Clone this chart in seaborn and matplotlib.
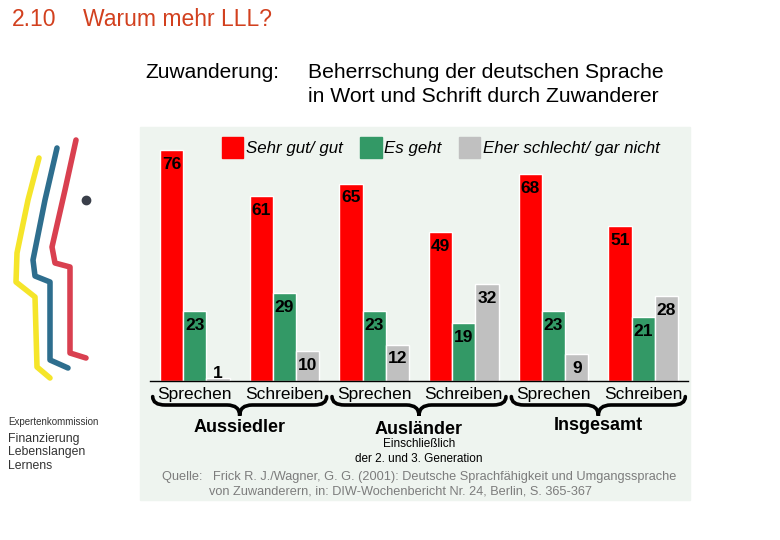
import numpy as np
import pandas as pd
import matplotlib
matplotlib.use("Agg")
import matplotlib.pyplot as plt
import seaborn as sns
from matplotlib.patches import Patch, Rectangle, PathPatch
from matplotlib.path import Path
from matplotlib.lines import Line2D
from matplotlib.transforms import blended_transform_factory

# data
gruppen = ["Aussiedler", "Ausländer", "Insgesamt"]
faehigkeiten = ["Sprechen", "Schreiben"]
bewertungen = ["Sehr gut/ gut", "Es geht", "Eher schlecht/ gar nicht"]
sehr_gut = [76, 61, 65, 49, 68, 51]
es_geht = [23, 29, 23, 19, 23, 21]
schlecht = [1, 10, 12, 32, 9, 28]
farben = ["#ff0000", "#339966", "#c0c0c0"]

kategorien = [f"{g} {f}" for g in gruppen for f in faehigkeiten]
df = pd.DataFrame({
    "kategorie": kategorien * 3,
    "bewertung": np.repeat(bewertungen, len(kategorien)),
    "wert": sehr_gut + es_geht + schlecht,
})

sns.set_style("white")
plt.rcParams["font.family"] = ["Liberation Sans", "DejaVu Sans"]
plt.rcParams["text.color"] = "black"
plt.rcParams["xtick.color"] = "black"
narrow = ["Liberation Sans Narrow", "Liberation Sans", "DejaVu Sans"]

W, H = 780, 540
fig = plt.figure(figsize=(7.8, 5.4), dpi=100)


def fx(x):
    return x / W


def fy(y):
    return 1 - y / H


# light background box behind the chart
fig.patches.append(Rectangle((fx(140), fy(500)), fx(550), 373 / H,
                             transform=fig.transFigure, color="#eef4ef", zorder=-5))

ax = fig.add_axes([fx(150), fy(381), 538 / W, 240 / H])
sns.barplot(data=df, x="kategorie", y="wert", hue="bewertung", order=kategorien,
            hue_order=bewertungen, palette=farben, saturation=1, width=0.78,
            ax=ax, legend=False)
ax.set_xlim(-0.5, 5.5)
ax.set_ylim(0, 79)
ax.patch.set_alpha(0)
for s in ["left", "top", "right"]:
    ax.spines[s].set_visible(False)
ax.spines["bottom"].set_color("black")
ax.spines["bottom"].set_linewidth(1)
ax.set_yticks([])
ax.set_xlabel("")
ax.set_ylabel("")
ax.set_xticks(range(6))
ax.set_xticklabels(faehigkeiten * 3, fontsize=12.5)
ax.set_xticks(np.arange(-0.5, 6, 1), minor=True)
ax.tick_params(axis="x", which="major", length=0, pad=4)
ax.tick_params(axis="x", which="minor", length=5, width=1, direction="out", color="black")

# value labels
for cont in ax.containers:
    for bar in cont:
        h = bar.get_height()
        xc = bar.get_x() + bar.get_width() / 2
        if h < 3:
            ax.annotate(f"{h:.0f}", (xc, h), xytext=(0, -2), textcoords="offset points",
                        ha="center", va="bottom", fontsize=12.5, fontweight="bold", family=narrow)
        else:
            ax.annotate(f"{h:.0f}", (xc, h), xytext=(0, -5), textcoords="offset points",
                        ha="center", va="top", fontsize=12.5, fontweight="bold", family=narrow)

# curly braces under each pair of categories
tb = blended_transform_factory(ax.transData, ax.transAxes)
y_top, y_mid, y_bot = -0.065, -0.10, -0.145
for i in range(3):
    x0, x1 = 2 * i - 0.47, 2 * i + 1.47
    xm = (x0 + x1) / 2
    d = 0.14
    verts = [(x0, y_top), (x0, y_mid), (x0 + d, y_mid), (xm - d, y_mid),
             (xm, y_mid), (xm, y_bot), (xm, y_mid), (xm + d, y_mid),
             (x1 - d, y_mid), (x1, y_mid), (x1, y_top)]
    codes = [Path.MOVETO, Path.CURVE3, Path.CURVE3, Path.LINETO,
             Path.CURVE3, Path.CURVE3, Path.CURVE3, Path.CURVE3,
             Path.LINETO, Path.CURVE3, Path.CURVE3]
    ax.add_patch(PathPatch(Path(verts, codes), transform=tb, fill=False,
                           lw=2.6, color="black", clip_on=False, capstyle="round"))

# group labels
tg = blended_transform_factory(ax.transData, fig.transFigure)
for i, (g, yy) in enumerate(zip(gruppen, [427, 429, 425])):
    ax.text(2 * i + 0.5, fy(yy), g, transform=tg, ha="center", va="center",
            fontsize=13, fontweight="bold")
ax.text(2.5, fy(444), "Einschließlich", transform=tg, ha="center", va="center",
        fontsize=8.5, family=narrow)
ax.text(2.5, fy(459), "der 2. und 3. Generation", transform=tg, ha="center", va="center",
        fontsize=8.5, family=narrow)

# legend
handles = [Patch(color=c) for c in farben]
fig.legend(handles, bewertungen, loc="upper left", bbox_to_anchor=(fx(222), fy(137)),
           ncol=3, frameon=False, prop=dict(style="italic", size=12.2),
           handlelength=1.25, handleheight=1.5, handletextpad=0.15,
           columnspacing=1.05, borderaxespad=0, borderpad=0)

# slide titles
fig.text(fx(12), fy(20), "2.10", color="#d2401e", fontsize=16.5, va="center")
fig.text(fx(83), fy(20), "Warum mehr LLL?", color="#d2401e", fontsize=16.5, va="center")
fig.text(fx(145), fy(72), "Zuwanderung:", fontsize=15, va="center")
fig.text(fx(308), fy(72), "Beherrschung der deutschen Sprache", fontsize=15.2, va="center")
fig.text(fx(308), fy(96), "in Wort und Schrift durch Zuwanderer", fontsize=15.2, va="center")

# source
fig.text(fx(162), fy(477), "Quelle:   Frick R. J./Wagner, G. G. (2001): Deutsche Sprachfähigkeit und Umgangssprache",
         fontsize=9.2, color="#7c7c7c", va="center")
fig.text(fx(209), fy(492), "von Zuwanderern, in: DIW-Wochenbericht Nr. 24, Berlin, S. 365-367",
         fontsize=9.2, color="#7c7c7c", va="center")

# logo (decoration)
logo = [
    ("#f5e52a", [(39, 158), (28, 200), (17, 253), (16, 282), (35, 297), (37, 367), (50, 378)]),
    ("#2e6e8e", [(57, 148), (45, 200), (33, 260), (35, 276), (50, 282), (50, 360), (68, 368)]),
    ("#d94050", [(76, 140), (65, 190), (52, 247), (55, 263), (70, 267), (70, 353), (86, 358)]),
]
for col, pts in logo:
    xs = [fx(p[0]) for p in pts]
    ys = [fy(p[1]) for p in pts]
    fig.add_artist(Line2D(xs, ys, color=col, lw=4, solid_capstyle="round",
                          solid_joinstyle="round", transform=fig.transFigure))
fig.add_artist(Line2D([fx(86)], [fy(200)], marker="o", ms=6, color="#3a3f4a",
                      transform=fig.transFigure))
fig.text(fx(8), fy(422), "Expertenkommission", fontsize=7, color="#333333", va="center")
fig.text(fx(8), fy(439), "Finanzierung", fontsize=8.8, color="#333333", va="center")
fig.text(fx(8), fy(452), "Lebenslangen", fontsize=8.8, color="#333333", va="center")
fig.text(fx(8), fy(466), "Lernens", fontsize=8.8, color="#333333", va="center")

fig.savefig("out.png", dpi=100)
plt.close(fig)
